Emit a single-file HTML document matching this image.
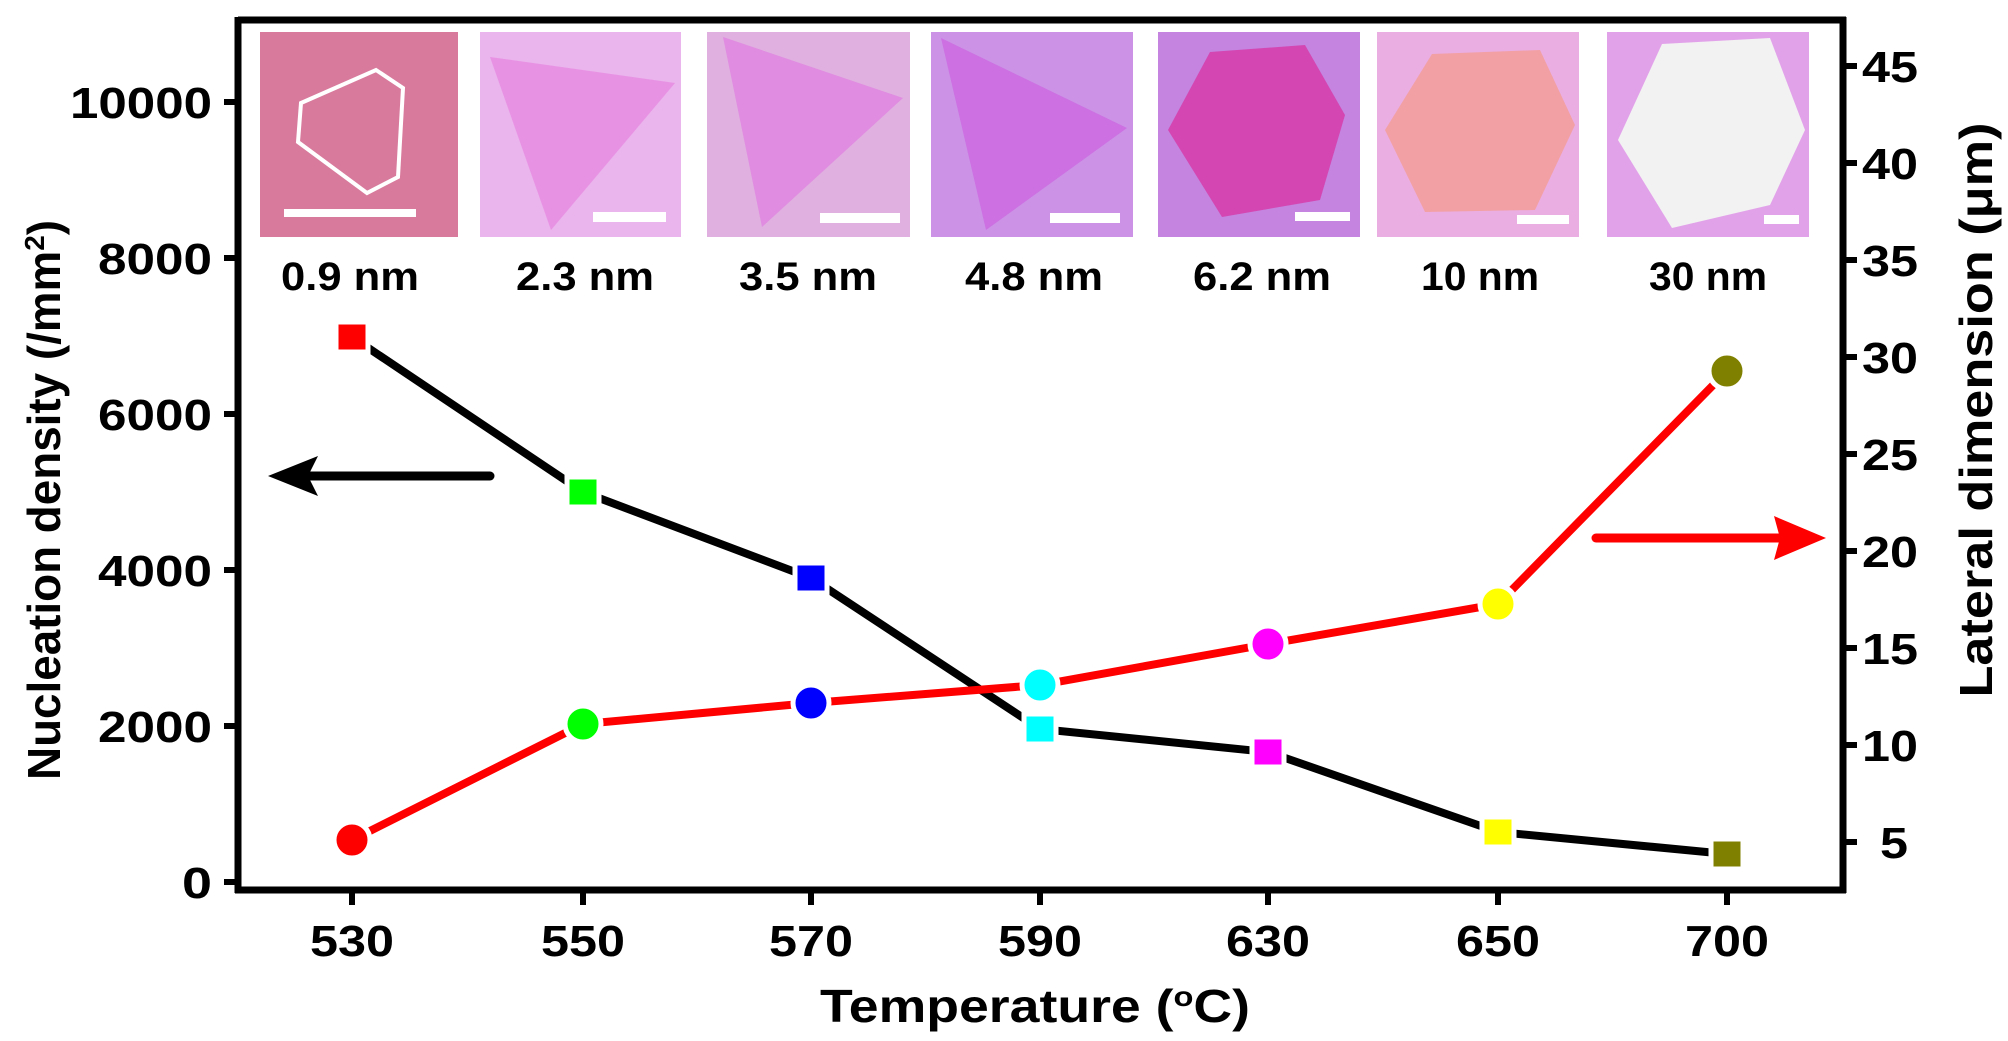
<!DOCTYPE html>
<html><head><meta charset="utf-8"><style>
html,body{margin:0;padding:0;background:#fff;}
svg{display:block;}
text{font-family:"Liberation Sans",Arial,sans-serif;font-weight:bold;fill:#000;}
</style></head><body>
<svg width="2008" height="1041" viewBox="0 0 2008 1041" xmlns="http://www.w3.org/2000/svg">
<g>
<rect x="260" y="32" width="198" height="205" fill="#d87a9c"/>
<polygon points="376,70 403,88 398,177 367,193 298,142 301,103" fill="none" stroke="#fff" stroke-width="4"/>
<rect x="284" y="209" width="132" height="8" fill="#fff"/>

<rect x="480" y="32" width="201" height="205" fill="#eab4ec"/>
<polygon points="490,57 675,83 551,230" fill="#e892e4"/>
<rect x="593" y="212" width="73" height="10" fill="#fff"/>

<rect x="707" y="32" width="203" height="205" fill="#e0b0e0"/>
<polygon points="723,37 903,98 762,227" fill="#e08ce0"/>
<rect x="820" y="213" width="80" height="10" fill="#fff"/>

<rect x="931" y="32" width="202" height="205" fill="#cc92e6"/>
<polygon points="941,38 1127,128 986,230" fill="#cc70e2"/>
<rect x="1050" y="213" width="70" height="10" fill="#fff"/>

<rect x="1158" y="32" width="202" height="205" fill="#c484e0"/>
<polygon points="1210,52 1305,45 1345,115 1320,200 1222,217 1168,130" fill="#d446b2"/>
<rect x="1295" y="212" width="55" height="9" fill="#fff"/>

<rect x="1377" y="32" width="202" height="205" fill="#eaaee2"/>
<polygon points="1432,54 1540,50 1575,125 1535,210 1425,212 1385,130" fill="#f2a0a4"/>
<rect x="1517" y="215" width="52" height="9" fill="#fff"/>

<rect x="1607" y="32" width="202" height="205" fill="#e2a2ea"/>
<polygon points="1662,44 1770,38 1805,130 1770,205 1672,228 1618,140" fill="#f2f2f2"/>
<rect x="1764" y="215" width="35" height="9" fill="#fff"/>
</g>
<g font-size="40" text-anchor="middle">
<text x="350" y="290" textLength="138" lengthAdjust="spacingAndGlyphs">0.9 nm</text>
<text x="585" y="290" textLength="138" lengthAdjust="spacingAndGlyphs">2.3 nm</text>
<text x="808" y="290" textLength="138" lengthAdjust="spacingAndGlyphs">3.5 nm</text>
<text x="1034" y="290" textLength="138" lengthAdjust="spacingAndGlyphs">4.8 nm</text>
<text x="1262" y="290" textLength="138" lengthAdjust="spacingAndGlyphs">6.2 nm</text>
<text x="1480" y="290" textLength="118" lengthAdjust="spacingAndGlyphs">10 nm</text>
<text x="1708" y="290" textLength="118" lengthAdjust="spacingAndGlyphs">30 nm</text>
</g>
<g stroke="#000" stroke-width="7" fill="none">
<line x1="238" y1="20" x2="1846" y2="20"/>
<line x1="238" y1="17" x2="238" y2="893"/>
<line x1="1843" y1="17" x2="1843" y2="893"/>
<line x1="235" y1="890" x2="1846" y2="890"/>
</g>
<g stroke="#000" stroke-width="6">
<line x1="224" y1="102" x2="238" y2="102"/><line x1="224" y1="258" x2="238" y2="258"/>
<line x1="224" y1="414" x2="238" y2="414"/><line x1="224" y1="570" x2="238" y2="570"/>
<line x1="224" y1="726" x2="238" y2="726"/><line x1="224" y1="882" x2="238" y2="882"/>
<line x1="1843" y1="66" x2="1857" y2="66"/><line x1="1843" y1="163" x2="1857" y2="163"/>
<line x1="1843" y1="260" x2="1857" y2="260"/><line x1="1843" y1="357" x2="1857" y2="357"/>
<line x1="1843" y1="454" x2="1857" y2="454"/><line x1="1843" y1="551" x2="1857" y2="551"/>
<line x1="1843" y1="648" x2="1857" y2="648"/><line x1="1843" y1="745" x2="1857" y2="745"/>
<line x1="1843" y1="842" x2="1857" y2="842"/>
<line x1="352" y1="890" x2="352" y2="905"/><line x1="583" y1="890" x2="583" y2="905"/>
<line x1="811" y1="890" x2="811" y2="905"/><line x1="1040" y1="890" x2="1040" y2="905"/>
<line x1="1268" y1="890" x2="1268" y2="905"/><line x1="1498" y1="890" x2="1498" y2="905"/>
<line x1="1727" y1="890" x2="1727" y2="905"/>
</g>
<g font-size="44" text-anchor="end">
<text x="212" y="118" textLength="142" lengthAdjust="spacingAndGlyphs">10000</text>
<text x="212" y="274" textLength="114" lengthAdjust="spacingAndGlyphs">8000</text>
<text x="212" y="430" textLength="114" lengthAdjust="spacingAndGlyphs">6000</text>
<text x="212" y="586" textLength="114" lengthAdjust="spacingAndGlyphs">4000</text>
<text x="212" y="742" textLength="114" lengthAdjust="spacingAndGlyphs">2000</text>
<text x="212" y="898" textLength="30" lengthAdjust="spacingAndGlyphs">0</text>
</g>
<g font-size="44" text-anchor="start">
<text x="1862" y="82" textLength="56" lengthAdjust="spacingAndGlyphs">45</text>
<text x="1862" y="179" textLength="56" lengthAdjust="spacingAndGlyphs">40</text>
<text x="1862" y="276" textLength="56" lengthAdjust="spacingAndGlyphs">35</text>
<text x="1862" y="373" textLength="56" lengthAdjust="spacingAndGlyphs">30</text>
<text x="1862" y="470" textLength="56" lengthAdjust="spacingAndGlyphs">25</text>
<text x="1862" y="567" textLength="56" lengthAdjust="spacingAndGlyphs">20</text>
<text x="1862" y="664" textLength="56" lengthAdjust="spacingAndGlyphs">15</text>
<text x="1862" y="761" textLength="56" lengthAdjust="spacingAndGlyphs">10</text>
<text x="1880" y="858" textLength="28" lengthAdjust="spacingAndGlyphs">5</text>
</g>
<g font-size="44" text-anchor="middle">
<text x="352" y="956" textLength="84" lengthAdjust="spacingAndGlyphs">530</text>
<text x="583" y="956" textLength="84" lengthAdjust="spacingAndGlyphs">550</text>
<text x="811" y="956" textLength="84" lengthAdjust="spacingAndGlyphs">570</text>
<text x="1040" y="956" textLength="84" lengthAdjust="spacingAndGlyphs">590</text>
<text x="1268" y="956" textLength="84" lengthAdjust="spacingAndGlyphs">630</text>
<text x="1498" y="956" textLength="84" lengthAdjust="spacingAndGlyphs">650</text>
<text x="1727" y="956" textLength="84" lengthAdjust="spacingAndGlyphs">700</text>
</g>
<text x="1035" y="1022" font-size="46" text-anchor="middle" textLength="430" lengthAdjust="spacingAndGlyphs">Temperature (<tspan font-size="28" dy="-16">o</tspan><tspan dy="16">C)</tspan></text>
<text transform="translate(60,500) rotate(-90)" font-size="46" text-anchor="middle" textLength="560" lengthAdjust="spacingAndGlyphs">Nucleation density (/mm<tspan font-size="28" dy="-16">2</tspan><tspan dy="16">)</tspan></text>
<text transform="translate(1992,410) rotate(-90)" font-size="46" text-anchor="middle" textLength="575" lengthAdjust="spacingAndGlyphs">Lateral dimension (μm)</text>
<line x1="490" y1="476" x2="300" y2="476" stroke="#000" stroke-width="9" stroke-linecap="round"/>
<polygon points="268,476 318,456 308,476 318,496" fill="#000"/>
<line x1="1596" y1="538" x2="1790" y2="538" stroke="#ff0000" stroke-width="9" stroke-linecap="round"/>
<polygon points="1826,538 1774,516 1780,538 1774,560" fill="#ff0000"/>
<polyline points="352,337 583,492 811,578 1040,729 1268,752 1498,832 1727,854" fill="none" stroke="#000" stroke-width="8"/>
<polyline points="352,840 583,724 811,703 1040,685 1268,644 1498,604 1727,371" fill="none" stroke="#ff0000" stroke-width="8"/>
<g stroke="#fff" stroke-width="5">
<rect x="336" y="322" width="32" height="30" fill="#ff0000"/>
<rect x="567" y="477" width="32" height="30" fill="#00ff00"/>
<rect x="795" y="563" width="32" height="30" fill="#0000ff"/>
<rect x="1024" y="714" width="32" height="30" fill="#00ffff"/>
<rect x="1252" y="737" width="32" height="30" fill="#ff00ff"/>
<rect x="1482" y="817" width="32" height="30" fill="#ffff00"/>
<rect x="1711" y="839" width="32" height="30" fill="#808000"/>
<circle cx="352" cy="840" r="18" fill="#ff0000"/>
<circle cx="583" cy="724" r="18" fill="#00ff00"/>
<circle cx="811" cy="703" r="18" fill="#0000ff"/>
<circle cx="1040" cy="685" r="18" fill="#00ffff"/>
<circle cx="1268" cy="644" r="18" fill="#ff00ff"/>
<circle cx="1498" cy="604" r="18" fill="#ffff00"/>
<circle cx="1727" cy="371" r="18" fill="#808000"/>
</g>
</svg>
</body></html>
